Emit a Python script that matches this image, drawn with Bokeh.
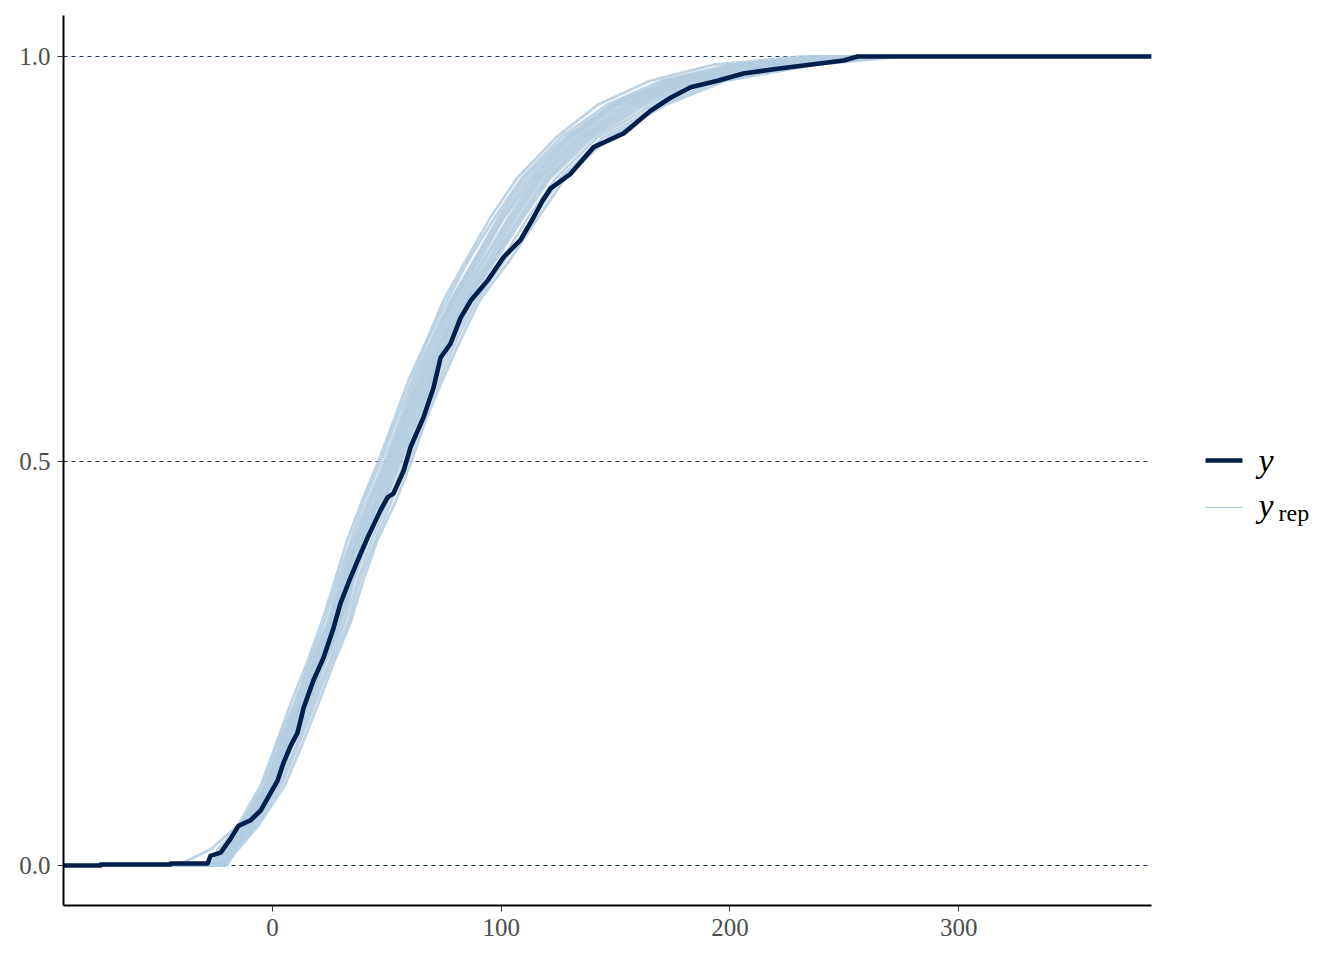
from bokeh.plotting import figure
from bokeh.layouts import row
from bokeh.models import Range1d, FixedTicker, PrintfTickFormatter
from bokeh.core.properties import value
from bokeh.embed import file_html
from bokeh.resources import INLINE

# ---------------- data ----------------
X_MIN, X_MAX = -91.4, 384.3
Y_MIN, Y_MAX = -0.0494, 1.0507
x_ticks = [0, 100, 200, 300]
y_ticks = [0.0, 0.5, 1.0]

# observed y: empirical CDF
y_obs_x = [-75.2, -44.6, -44.6, -28.4, -27.1, -22.7, -18.4, -14.9, -9.6, -5.2,
           -2.2, 2.2, 4.8, 7.9, 10.9, 13.6, 17.9, 22.3, 26.7, 29.7,
           34.1, 37.2, 41.5, 47.2, 50.3, 52.9, 57.3, 59.5, 60.3, 66.0,
           70.4, 73.5, 77.8, 82.2, 86.6, 94.0, 101.0, 108.4, 114.1, 118.1,
           121.6, 130.3, 140.4, 153.5, 165.3, 174.0, 182.8, 194.6, 205.9, 220.8,
           238.3, 249.7, 255.8]
y_obs_F = [0.0012, 0.0012, 0.0025, 0.0025, 0.012, 0.016, 0.033, 0.049, 0.056, 0.068,
           0.083, 0.105, 0.127, 0.148, 0.164, 0.195, 0.229, 0.257, 0.294, 0.324,
           0.356, 0.377, 0.405, 0.439, 0.455, 0.460, 0.488, 0.509, 0.517, 0.554,
           0.591, 0.628, 0.645, 0.677, 0.698, 0.723, 0.752, 0.773, 0.801, 0.822,
           0.837, 0.855, 0.888, 0.905, 0.933, 0.949, 0.962, 0.970, 0.979, 0.985,
           0.991, 0.995, 1.0]

# replicated datasets: x value at which each yrep ECDF reaches these levels
yrep_levels = [0, 0.005, 0.02, 0.05, 0.1, 0.15, 0.2, 0.25, 0.3, 0.35, 0.4, 0.45, 0.5,
               0.55, 0.6, 0.65, 0.7, 0.75, 0.8, 0.85, 0.9, 0.94, 0.97, 0.99, 1.0]
yrep_01 = [-45, -38, -27, -15, -5, 1.5, 7.9, 15, 21.4, 27, 32.4, 39, 46.3, 53, 59.5, 67.5, 75, 85, 95, 107, 124, 142, 165, 193, 232]
yrep_02 = [-30, -26, -24, -14, -4, 2, 9.5, 16, 22.5, 28, 34, 40, 47.5, 54, 61, 68, 76.5, 86, 97, 109, 126, 146, 170, 200, 240]
yrep_03 = [-28, -25, -22, -14, -3, 3, 10, 16.5, 24, 29, 35, 41.5, 49, 55.5, 62, 69.5, 78, 88.5, 98.5, 110, 128, 148, 172, 203, 245]
yrep_04 = [-31, -25, -22, -13.5, -2.5, 3.5, 11, 17.5, 24.5, 30, 36, 42.5, 50, 56.5, 63, 70, 79, 89, 99.5, 111.5, 129, 149, 174, 205, 243]
yrep_05 = [-33, -24, -21, -13, -2, 4, 11.5, 18, 25, 30.5, 36.5, 43, 50.5, 57, 64, 71, 79.5, 90, 100.5, 113, 130, 150, 175, 207, 250]
yrep_06 = [-27, -23, -20, -12, -2, 5, 12, 19, 25.5, 31.5, 37, 44, 51, 57.5, 64.5, 72, 80, 91, 101, 114, 131, 151, 177, 208, 247]
yrep_07 = [-29, -24, -20, -11, -1, 5.5, 12.5, 19.5, 26.5, 31.5, 37.5, 45, 52, 58.5, 65.5, 73, 81, 92.5, 103, 115, 132.5, 153, 178, 210, 252]
yrep_08 = [-26, -22, -19, -11, -0.5, 6, 13, 20, 26.5, 32.5, 38.5, 45.5, 52.5, 59, 66, 74, 82, 93, 104, 116, 134, 155, 180, 213, 255]
yrep_09 = [-25, -22, -20, -10.5, 0, 6.5, 14, 20.5, 27.5, 33, 39, 46, 53.5, 60, 67, 74.5, 83, 94.5, 105, 117, 135, 156, 181, 215, 258]
yrep_10 = [-24, -21, -19, -11, 0.5, 7.5, 14.5, 21.5, 28.5, 33.5, 39.5, 47, 54, 60.5, 68, 75.5, 84, 95.5, 106, 118, 136, 158, 183, 217, 256]
yrep_11 = [-25, -21, -18, -10, 1, 8, 15, 22, 29, 34.5, 40.5, 48, 55, 61.5, 68.5, 76, 85, 96.5, 107.5, 119.5, 137.5, 159, 184, 220, 262]
yrep_12 = [-23, -21, -17.5, -9.5, 1.5, 8.5, 15.5, 22.5, 29.5, 35, 41, 48.5, 55.5, 62.5, 69.5, 77, 85.5, 97, 108.5, 120.5, 138.5, 161, 186, 222, 264]
yrep_13 = [-22, -20, -17, -9, 2, 9, 16.5, 23, 30.5, 35.5, 41.5, 49, 56.5, 63, 70, 77.5, 86.5, 98, 109.5, 121.5, 140, 163, 188, 224, 265]
yrep_14 = [-21, -20, -16.5, -8, 3, 10.5, 17.5, 24.5, 31.5, 37, 43, 50.5, 58, 64, 71.5, 79, 88, 100.5, 111.5, 124, 142, 166, 191, 228, 268]
yrep_15 = [-20, -19, -16, -7, 4, 11.5, 18.5, 25.5, 33, 38, 44.5, 52, 59.5, 65.5, 73, 80.5, 89.5, 102, 114, 126, 144.5, 169, 195, 233, 270]
yrep_16 = [-21, -19.5, -15, -6, 5.5, 13, 20, 26.7, 34.1, 39.4, 45.5, 53.8, 60.8, 66.9, 74.3, 82.2, 90.9, 104.1, 115.9, 128.1, 146.9, 171.8, 198.1, 237.4, 274.6]

yrep_all = [yrep_01, yrep_02, yrep_03, yrep_04, yrep_05, yrep_06, yrep_07, yrep_08,
            yrep_09, yrep_10, yrep_11, yrep_12, yrep_13, yrep_14, yrep_15, yrep_16]

# ---------------- styling ----------------
DARK = "#011f4b"
LIGHT = "#b3cde0"
FONT = "Liberation Serif"

p = figure(width=1158, height=950,
           x_range=Range1d(X_MIN, X_MAX), y_range=Range1d(Y_MIN, Y_MAX),
           output_backend="svg", toolbar_location=None,
           min_border_left=63, min_border_right=7, min_border_top=15, min_border_bottom=45)
p.outline_line_color = None
p.background_fill_color = "white"

# yrep lines
xs = [[X_MIN] + c + [X_MAX] for c in yrep_all]
ys = [[0.0] + yrep_levels + [1.0] for _ in yrep_all]
p.multi_line(xs, ys, line_color=LIGHT, line_width=2.8, line_alpha=0.85)

# observed y line
yx = [X_MIN, y_obs_x[0]] + y_obs_x + [X_MAX]
yF = [0.0, 0.0] + y_obs_F + [1.0]
p.line(yx, yF, line_color=DARK, line_width=4.6, line_join="round")

# grid
p.xgrid.visible = False
p.ygrid.ticker = FixedTicker(ticks=y_ticks)
p.ygrid.grid_line_color = DARK
p.ygrid.grid_line_width = 0.9
p.ygrid.grid_line_dash = "4 4"

# axes
p.xaxis.ticker = FixedTicker(ticks=x_ticks)
p.yaxis.ticker = FixedTicker(ticks=y_ticks)
p.yaxis.formatter = PrintfTickFormatter(format="%.1f")
for ax in (p.xaxis, p.yaxis):
    ax.axis_line_color = "black"
    ax.axis_line_width = 2
    ax.major_tick_line_color = "#333333"
    ax.major_tick_line_width = 1
    ax.major_tick_out = 6
    ax.major_tick_in = 0
    ax.minor_tick_line_color = None
    ax.major_label_text_font = FONT
    ax.major_label_text_font_size = "25px"
    ax.major_label_text_color = "#4d4d4d"
    ax.major_label_standoff = 7

# ---------------- legend panel (frame aligned with main frame: y 15..905) ----------------
leg = figure(width=170, height=950, x_range=Range1d(0, 170), y_range=Range1d(905, 15),
             output_backend="svg", toolbar_location=None,
             x_axis_location=None, y_axis_location=None,
             min_border_left=0, min_border_right=0, min_border_top=15, min_border_bottom=45)
leg.outline_line_color = None
leg.grid.visible = False

leg.line([47, 84], [460, 460], line_color=DARK, line_width=4.6)
leg.line([47, 84], [507, 507], line_color=LIGHT, line_width=1.2)
leg.text(x=[100], y=[460], text=["y"], text_font=value(FONT), text_font_style="italic",
         text_font_size="34px", text_baseline="alphabetic", text_align="left", text_color="black")
leg.text(x=[100], y=[505], text=["y"], text_font=value(FONT), text_font_style="italic",
         text_font_size="34px", text_baseline="alphabetic", text_align="left", text_color="black")
leg.text(x=[120], y=[512], text=["rep"], text_font=value(FONT), text_font_style="normal",
         text_font_size="24px", text_baseline="alphabetic", text_align="left", text_color="black")

layout = row(p, leg)
open("out.html", "w").write(file_html(layout, INLINE))
